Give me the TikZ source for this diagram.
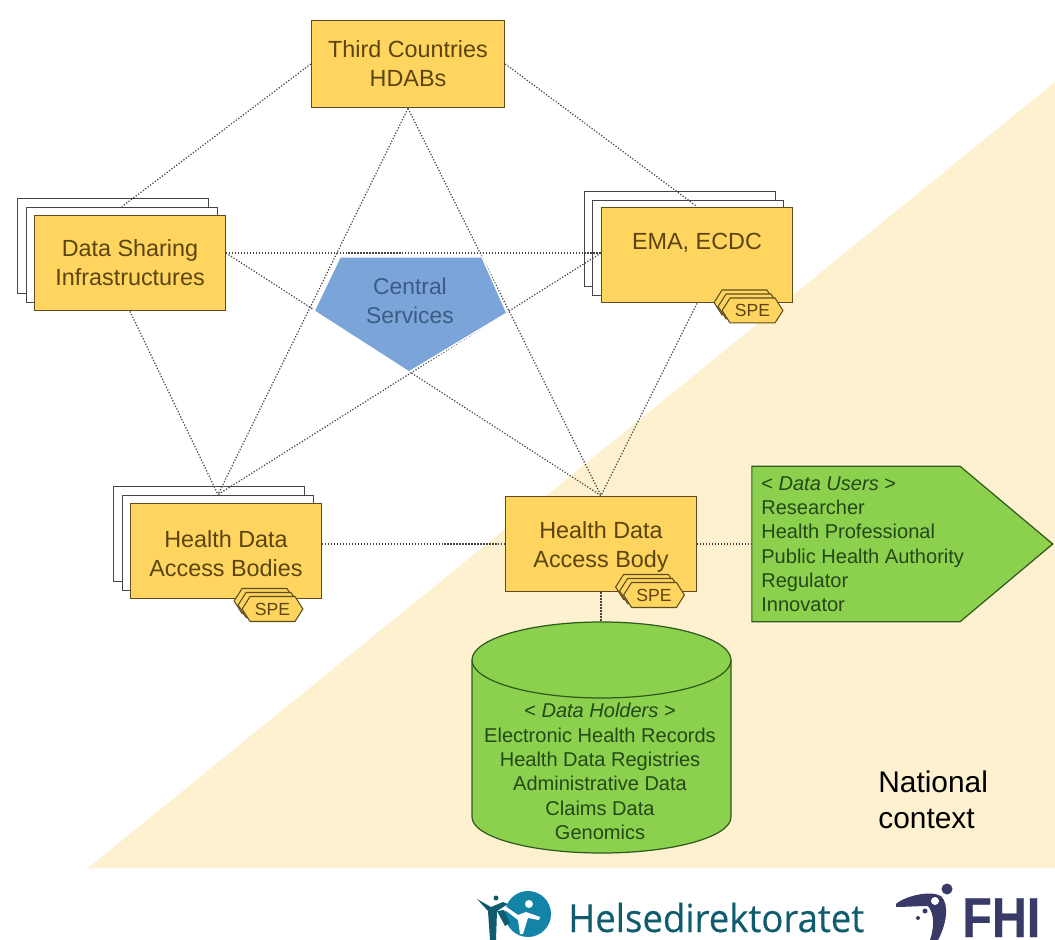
\documentclass[tikz,border=0pt]{standalone}
\usepackage{fontspec}
\setmainfont{Liberation Sans}
\newfontfamily\logofont[FakeStretch=0.945,FakeBold=0.3]{Open Sans}
\newfontfamily\fhifont[FakeStretch=0.86,FakeBold=0.4]{Liberation Sans}
\usetikzlibrary{shapes.symbols,backgrounds}
\definecolor{creamctx}{HTML}{FEF1CF}
\definecolor{bodyfill}{HTML}{FFD55F}
\definecolor{bodyline}{HTML}{5E4C1E}
\definecolor{bodytext}{HTML}{5A4510}
\definecolor{greenfill}{HTML}{8CD14E}
\definecolor{greenline}{HTML}{2F5A1E}
\definecolor{greentext}{HTML}{24481A}
\definecolor{bluefill}{HTML}{7BA5D8}
\definecolor{bluetext}{HTML}{3B5B85}
\definecolor{linkgray}{HTML}{444444}
\definecolor{helseteal}{HTML}{0F5C6E}
\definecolor{helseblue}{HTML}{1483A8}
\definecolor{fhiblue}{HTML}{3A3A68}
\tikzset{
  bodybox/.style={draw=bodyline,fill=bodyfill,line width=0.7pt,text=bodytext,inner sep=0pt,
    minimum width=108.8pt,minimum height=54.4pt,align=center,font=\fontsize{13.3}{16.5}\selectfont},
  backbox/.style={draw=linkgray,fill=white,line width=0.7pt,inner sep=0pt,
    minimum width=108.8pt,minimum height=54.4pt},
  spebox/.style={draw=bodyline,fill=bodyfill,line width=0.6pt,text=bodytext,inner sep=0pt,
    signal,signal to=east and west,signal pointer angle=115,
    minimum width=34.6pt,minimum height=14.2pt,font=\fontsize{10}{12}\selectfont},
  greentxt/.style={text=greentext,font=\fontsize{11.4}{13.85}\selectfont,inner sep=0pt},
  greenshape/.style={draw=greenline,fill=greenfill,line width=0.7pt},
  link/.style={densely dotted,draw=linkgray,line width=0.7pt}
}
\begin{document}
\begin{tikzpicture}[x=0.2mm,y=0.2mm]
        \useasboundingbox (0,0) rectangle (1055,-940);
        \node [bodybox,minimum width=110pt,minimum height=49.9pt] (third) at (408,-64) {Third Countries\\HDABs};
        \node [bodybox] (dsi) at (130,-263) {Data Sharing\\Infrastructures};
        \node [bodybox] (ema) at (697,-255) {EMA, ECDC\\[-1pt]~};
        \node [bodybox] (hdabs) at (226,-551) {\rule{0pt}{13pt}Health Data\\Access Bodies};
        \node [bodybox] (hdab) at (601,-544) {\rule{0pt}{12.5pt}Health Data\\Access Body};
        \coordinate (dsilink) at (226,-253);
        \coordinate (emalink) at (601,-253);
        \coordinate (hdabslink) at (322,-544);
        \coordinate (holderstop) at (601,-622);
        \fill [bluefill,draw=white,line width=0.8pt] (340,-257) -- (482,-257) -- (507,-313) -- (409,-372) -- (314,-311) -- cycle;
        \node [text=bluetext,align=center,inner sep=0pt,font=\fontsize{13}{16.5}\selectfont] (central) at (410,-301) {Central\\Services};
        \node [spebox] (emaspec) at (744.5,-302.5) {};
        \node [spebox] (emaspeb) at (748.5,-306.5) {};
        \node [spebox] (emaspe) at (752.5,-310.5) {SPE};
        \node [spebox] (hdabsspec) at (264.5,-601) {};
        \node [spebox] (hdabsspeb) at (268.5,-605) {};
        \node [spebox] (hdabsspe) at (272.5,-609) {SPE};
        \node [spebox] (hdabspec) at (646,-587) {};
        \node [spebox] (hdabspeb) at (650,-591) {};
        \node [spebox] (hdabspe) at (654,-595) {SPE};
        \node [greenshape,signal,signal to=east,signal pointer angle=80,
          inner sep=0pt,minimum width=171.2pt,minimum height=88.4pt] (users) at (856,-544) {};
        \node [greentxt,align=left,anchor=north west] (userstext) at (761,-476) {< \textit{Data Users} >\\Researcher\\Health Professional\\Public Health Authority\\Regulator\\Innovator};
        \draw [greenshape] (472,-660) -- (472,-817) arc (180:360:129.5 and 36) -- (731,-660) arc (0:180:129.5 and 38) -- cycle;
        \draw [greenshape] (472,-660) arc (180:360:129.5 and 38);
        \node [greentxt,align=center,anchor=north] (holderstext) at (600,-703) {< \textit{Data Holders} >\\Electronic Health Records\\Health Data Registries\\Administrative Data\\Claims Data\\Genomics};
        \node [align=left,inner sep=0pt,anchor=north west,font=\fontsize{17}{20.6}\selectfont] (natl) at (878,-770) {National\\context};
        \begin{scope}[on background layer]
        \fill [creamctx] (1055,-82) -- (1055,-868) -- (88,-868) -- cycle;
        \node [backbox] (dsic) at (113,-246) {};
        \node [backbox] (dsib) at (122,-255) {};
        \node [backbox] (emac) at (680,-239) {};
        \node [backbox] (emab) at (688,-248) {};
        \node [backbox] (hdabsc) at (209,-534) {};
        \node [backbox] (hdabsb) at (218,-543) {};
        \draw [link] (third.west) -- (dsib.north);
        \draw [link] (third.east) -- (ema.north);
        \draw [link] (third.south) -- (hdabsb.north);
        \draw [link] (third.south) -- (hdab.north);
        \draw [link] (dsi.south) -- (hdabsb.north);
        \draw [link] (dsilink) -- (emalink);
        \draw [link] (dsilink) -- (hdab.north);
        \draw [link] (emalink) -- (hdabsb.north);
        \draw [link] (ema.south) -- (hdab.north);
        \draw [link] (hdabslink) -- (hdab.west);
        \draw [link] (hdab.east) -- (users.west);
        \draw [link] (hdab.south) -- (holderstop);
        \end{scope}
        \fill [helseblue] (528,-914) circle (23);
        \fill [white] (505,-906) -- (518,-915) -- (526,-912) -- (540,-917) -- (539,-920) -- (528,-918) -- (523,-934) -- (520,-934) -- (518,-920) -- (505,-910) -- cycle;
        \fill [white] (529,-904) circle (4);
        \fill [helseteal] (477,-899) -- (491,-907) -- (503,-902) -- (508,-904) -- (497,-911) -- (496,-940) -- (490,-940) -- (488,-911) -- cycle;
        \fill [helseteal] (496,-898) circle (2.5);
        \fill [helseteal] (497,-911) -- (504,-910) -- (510,-923) -- (505,-926) -- cycle;
        \node [text=helseteal,inner sep=0pt,anchor=base west,font=\logofont\fontsize{22}{26}\selectfont] (helse) at (568,-932) {Helsedirektoratet};
        \fill [fhiblue] (896,-904) .. controls (905,-896) and (930,-890) .. (941,-896) .. controls (950,-905) and (946,-925) .. (938,-940) -- (930,-940) .. controls (934,-928) and (935,-915) .. (928,-906) .. controls (918,-906) and (905,-907) .. (896,-907) -- cycle;
        \fill [white] (935,-901) circle (4);
        \fill [fhiblue] (947,-889) circle (5.5);
        \fill [fhiblue] (925,-911) circle (2.5);
        \fill [fhiblue] (918,-918) circle (2);
        \node [text=fhiblue,inner sep=0pt,anchor=base west,font=\fhifont\bfseries\fontsize{32}{36}\selectfont] (fhi) at (962,-937) {FHI};
\end{tikzpicture}
\end{document}
